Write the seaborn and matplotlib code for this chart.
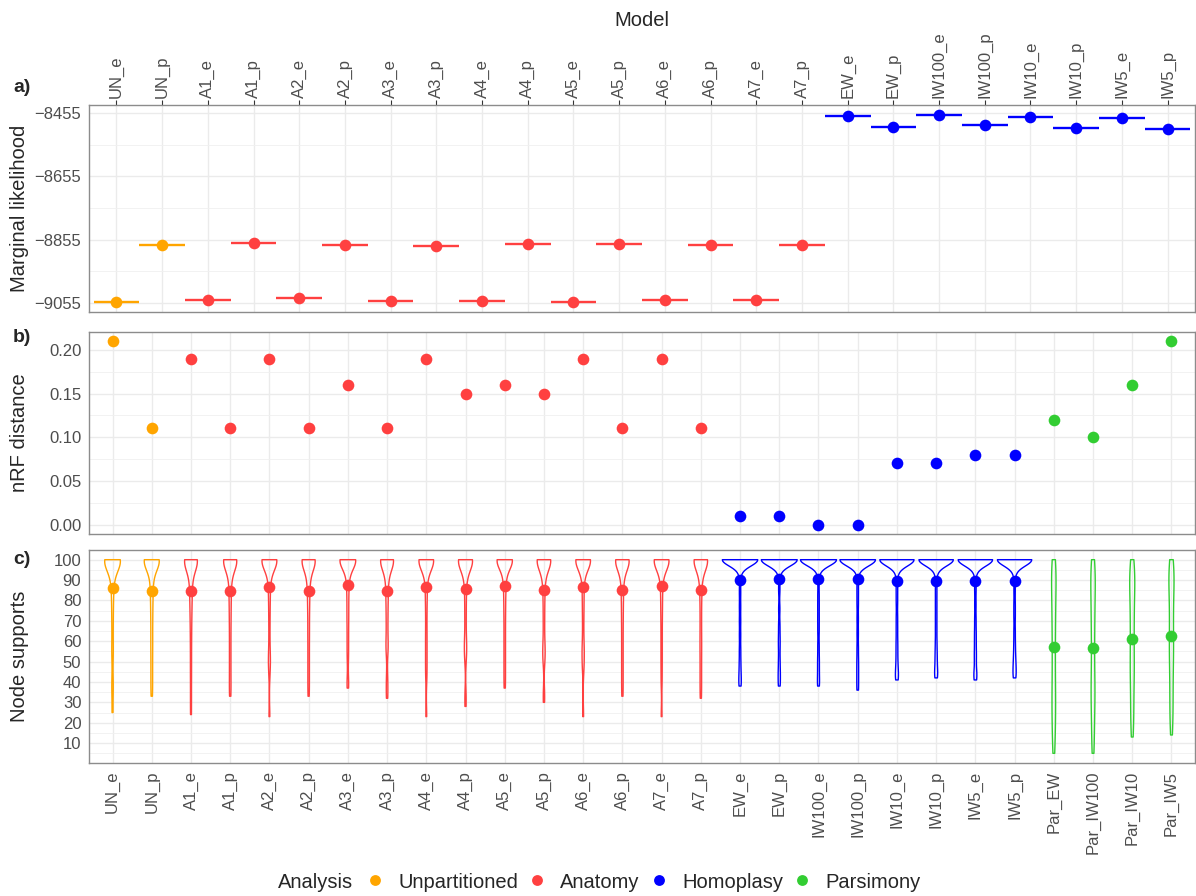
import numpy as np
import pandas as pd
import matplotlib
matplotlib.use("Agg")
import matplotlib.pyplot as plt
import seaborn as sns
from matplotlib.lines import Line2D
from matplotlib.ticker import FixedLocator

# ---------------- data ----------------
models_bayes = ["UN_e", "UN_p", "A1_e", "A1_p", "A2_e", "A2_p", "A3_e", "A3_p",
                "A4_e", "A4_p", "A5_e", "A5_p", "A6_e", "A6_p", "A7_e", "A7_p",
                "EW_e", "EW_p", "IW100_e", "IW100_p", "IW10_e", "IW10_p", "IW5_e", "IW5_p"]
models_pars = ["Par_EW", "Par_IW100", "Par_IW10", "Par_IW5"]
models_all = models_bayes + models_pars

analysis_bayes = ["Unpartitioned"] * 2 + ["Anatomy"] * 14 + ["Homoplasy"] * 8
analysis_all = analysis_bayes + ["Parsimony"] * 4
analysis_levels = ["Unpartitioned", "Anatomy", "Homoplasy", "Parsimony"]
analysis_colors = ["#FFA500", "#FF4040", "#0000FF", "#32CD32"]

marginal_likelihood = [-9054, -8872, -9046, -8867, -9041, -8871, -9049, -8876,
                       -9051, -8869, -9054, -8868, -9045, -8873, -9048, -8871,
                       -8464, -8497, -8460, -8493, -8468, -8501, -8469, -8506]

nrf_distance = [0.21, 0.11, 0.19, 0.11, 0.19, 0.11, 0.16, 0.11,
                0.19, 0.15, 0.16, 0.15, 0.19, 0.11, 0.19, 0.11,
                0.01, 0.01, 0.00, 0.00, 0.07, 0.07, 0.08, 0.08,
                0.12, 0.10, 0.16, 0.21]

ml_ticks = [-9055, -8855, -8655, -8455]
nrf_ticks = [0.00, 0.05, 0.10, 0.15, 0.20]
support_ticks = [10, 20, 30, 40, 50, 60, 70, 80, 90, 100]

# node supports per model
sup_UN_e = [100] * 14 + [99, 98, 97, 96, 94, 91, 88, 84, 79, 73, 66, 58, 52, 41, 35, 25]
sup_UN_p = [100] * 13 + [99, 98, 97, 95, 92, 89, 86, 82, 78, 73, 68, 62, 57, 51, 45, 39, 33]
sup_A1_e = [100] * 13 + [99, 98, 97, 95, 93, 90, 87, 84, 80, 76, 71, 65, 58, 50, 42, 33, 24]
sup_A1_p = [100] * 13 + [99, 98, 96, 95, 92, 90, 86, 82, 78, 73, 68, 62, 56, 50, 44, 38, 33]
sup_A2_e = [100] * 15 + [99, 98, 97, 95, 92, 89, 85, 80, 74, 67, 59, 52, 50, 44, 23]
sup_A2_p = [100] * 13 + [99, 97, 96, 94, 92, 89, 86, 83, 78, 74, 68, 63, 57, 51, 45, 39, 33]
sup_A3_e = [100] * 15 + [99, 98, 96, 94, 91, 88, 84, 79, 74, 69, 63, 57, 51, 41, 37]
sup_A3_p = [100] * 13 + [99, 98, 96, 94, 91, 88, 85, 81, 77, 72, 67, 61, 57, 55, 43, 37, 32]
sup_A4_e = [100] * 15 + [99, 98, 96, 95, 92, 88, 84, 79, 73, 66, 60, 54, 48, 42, 23]
sup_A4_p = [100] * 14 + [99, 98, 97, 95, 93, 90, 86, 81, 75, 69, 62, 55, 58, 51, 34, 28]
sup_A5_e = [100] * 15 + [99, 97, 96, 93, 90, 87, 83, 78, 73, 67, 61, 55, 49, 43, 37]
sup_A5_p = [100] * 14 + [99, 98, 96, 94, 91, 88, 84, 79, 73, 67, 60, 53, 56, 50, 35, 30]
sup_A6_e = [100] * 15 + [99, 98, 97, 94, 91, 87, 82, 77, 71, 64, 57, 50, 55, 46, 23]
sup_A6_p = [100] * 13 + [99, 98, 97, 95, 93, 90, 87, 83, 79, 74, 69, 63, 57, 51, 45, 39, 33]
sup_A7_e = [100] * 15 + [99, 98, 96, 95, 92, 89, 85, 80, 75, 69, 62, 55, 48, 40, 23]
sup_A7_p = [100] * 14 + [99, 97, 96, 94, 91, 88, 84, 79, 73, 67, 61, 56, 50, 44, 38, 32]
sup_EW_e = [100] * 29 + [96, 91, 84, 77, 70, 63, 56, 50, 45, 41, 38]
sup_EW_p = [100] * 29 + [97, 92, 85, 76, 68, 62, 57, 51, 46, 42, 38]
sup_IW100_e = [100] * 29 + [95, 90, 83, 77, 71, 65, 58, 52, 47, 42, 38]
sup_IW100_p = [100] * 29 + [96, 90, 84, 78, 71, 64, 57, 51, 46, 41, 36]
sup_IW10_e = [100] * 28 + [96, 91, 85, 79, 72, 66, 60, 55, 50, 46, 43, 41]
sup_IW10_p = [100] * 28 + [95, 90, 84, 78, 72, 66, 60, 55, 51, 47, 44, 42]
sup_IW5_e = [100] * 28 + [97, 91, 85, 78, 71, 65, 60, 55, 51, 46, 43, 41]
sup_IW5_p = [100] * 28 + [96, 92, 85, 78, 72, 65, 59, 54, 50, 47, 44, 42]
sup_Par_EW = [5, 9, 13, 16, 20, 24, 27, 30, 31, 35, 39, 42, 46, 50, 53, 57, 61, 64,
              68, 71, 74, 77, 80, 83, 86, 89, 91, 93, 95, 97, 99, 100]
sup_Par_IW100 = [5, 8, 12, 17, 21, 24, 28, 31, 34, 38, 41, 45, 49, 52, 56, 60, 63, 67,
                 70, 73, 76, 79, 82, 85, 88, 90, 92, 94, 96, 98, 100, 36]
sup_Par_IW10 = [13, 17, 21, 25, 28, 32, 36, 39, 43, 46, 50, 53, 57, 60, 63, 66, 69, 72,
                75, 78, 81, 84, 86, 88, 90, 92, 94, 96, 98, 100, 47]
sup_Par_IW5 = [14, 18, 22, 26, 29, 33, 37, 40, 44, 47, 51, 54, 58, 61, 64, 67, 70, 73,
               76, 79, 82, 85, 87, 89, 91, 93, 95, 97, 99, 100, 55]

support_lists = [sup_UN_e, sup_UN_p, sup_A1_e, sup_A1_p, sup_A2_e, sup_A2_p, sup_A3_e, sup_A3_p,
                 sup_A4_e, sup_A4_p, sup_A5_e, sup_A5_p, sup_A6_e, sup_A6_p, sup_A7_e, sup_A7_p,
                 sup_EW_e, sup_EW_p, sup_IW100_e, sup_IW100_p, sup_IW10_e, sup_IW10_p,
                 sup_IW5_e, sup_IW5_p, sup_Par_EW, sup_Par_IW100, sup_Par_IW10, sup_Par_IW5]

# ---------------- style ----------------
sns.set_style("white")
plt.rcParams["font.family"] = ["Liberation Sans", "DejaVu Sans"]
plt.rcParams["axes.unicode_minus"] = True

palette = dict(zip(analysis_levels, analysis_colors))
violin_width = {"Unpartitioned": 0.40, "Anatomy": 0.40, "Homoplasy": 0.92, "Parsimony": 0.13}
violin_bw = {"Unpartitioned": 0.22, "Anatomy": 0.22, "Homoplasy": 0.16, "Parsimony": 0.30}

TICK_COL = "#4D4D4D"
GRID_COL = "#EBEBEB"
SPINE_COL = "#8C8C8C"
TICK_SIZE = 12
TITLE_SIZE = 14.5

W, H = 1196, 896
fig = plt.figure(figsize=(W / 100, H / 100), dpi=100)


def rect(l, t, r, b):
    return [l / W, 1 - b / H, (r - l) / W, (b - t) / H]


ax_a = fig.add_axes(rect(89, 105.3, 1195, 312))
ax_b = fig.add_axes(rect(89, 332, 1195, 533.7))
ax_c = fig.add_axes(rect(89, 550, 1195, 763))

# ---------------- panel a ----------------
df_a = pd.DataFrame({"model": models_bayes, "ml": marginal_likelihood, "analysis": analysis_bayes})
pos_a = np.arange(len(models_bayes))
ax_a.hlines(df_a["ml"], pos_a - 0.5, pos_a + 0.5,
            colors=[palette[a] for a in analysis_bayes], linewidth=1.7, zorder=2)
sns.stripplot(data=df_a, x="model", y="ml", hue="analysis", order=models_bayes,
              hue_order=analysis_levels, palette=palette, jitter=False, size=8.4,
              linewidth=0, legend=False, ax=ax_a, zorder=3)

# ---------------- panel b ----------------
df_b = pd.DataFrame({"model": models_all, "nrf": nrf_distance, "analysis": analysis_all})
sns.stripplot(data=df_b, x="model", y="nrf", hue="analysis", order=models_all,
              hue_order=analysis_levels, palette=palette, jitter=False, size=8.4,
              linewidth=0, legend=False, ax=ax_b, zorder=3)

# ---------------- panel c ----------------
counts = [len(s) for s in support_lists]
df_c = pd.DataFrame({
    "model": np.repeat(models_all, counts),
    "analysis": np.repeat(analysis_all, counts),
    "support": np.concatenate(support_lists),
})
for grp in analysis_levels:
    sub = df_c[df_c["analysis"] == grp]
    sns.violinplot(data=sub, x="model", y="support", order=models_all,
                   color=palette[grp], saturation=1, fill=False, inner=None, cut=0,
                   density_norm="area", common_norm=True, width=violin_width[grp],
                   bw_method=violin_bw[grp], linewidth=1.0, ax=ax_c)
sns.pointplot(data=df_c, x="model", y="support", hue="analysis", order=models_all,
              hue_order=analysis_levels, palette=palette, estimator="mean",
              errorbar=None, linestyle="none", markers="o", markersize=8.4,
              markeredgewidth=0, dodge=False, legend=False, ax=ax_c)


# ---------------- axes styling ----------------
def style(ax, n, yticks, ylabels, ylim, minor):
    ax.set_facecolor("white")
    for s in ax.spines.values():
        s.set_visible(True)
        s.set_color(SPINE_COL)
        s.set_linewidth(1.0)
    ax.set_xlim(-0.6, n - 0.4)
    ax.set_xticks(np.arange(n))
    ax.set_yticks(yticks, labels=ylabels)
    ax.yaxis.set_minor_locator(FixedLocator(minor))
    ax.set_ylim(*ylim)
    ax.grid(True, which="major", color=GRID_COL, linewidth=1.0)
    ax.grid(True, which="minor", axis="y", color="#F0F0F0", linewidth=0.6)
    ax.set_axisbelow(True)
    ax.tick_params(which="major", length=3.5, width=0.8, color="#333333",
                   labelcolor=TICK_COL, labelsize=TICK_SIZE, pad=2)
    ax.tick_params(which="minor", length=0)
    ax.set_xlabel("")
    ax.set_ylabel("")


ml_minor = [(a + b) / 2 for a, b in zip(ml_ticks[:-1], ml_ticks[1:])]
style(ax_a, len(models_bayes), ml_ticks, [f"{v}".replace("-", "\u2212") for v in ml_ticks],
      (-9084.5, -8429.7), ml_minor)
ax_a.set_xticklabels(models_bayes)
ax_a.tick_params(axis="x", bottom=False, labelbottom=False, top=True, labeltop=True,
                 labelrotation=90)

nrf_minor = [(a + b) / 2 for a, b in zip(nrf_ticks[:-1], nrf_ticks[1:])]
style(ax_b, len(models_all), nrf_ticks, [f"{v:.2f}" for v in nrf_ticks],
      (-0.0105, 0.2205), nrf_minor)
ax_b.tick_params(axis="x", bottom=False, labelbottom=False, top=False, labeltop=False)

sup_minor = [t - 5 for t in support_ticks]
style(ax_c, len(models_all), support_ticks, [str(v) for v in support_ticks],
      (0.25, 104.75), sup_minor)
ax_c.set_xticklabels(models_all)
ax_c.tick_params(axis="x", labelrotation=90, top=False)

# ---------------- titles & labels ----------------
fig.text(642 / W, 1 - 20 / H, "Model", ha="center", va="center", fontsize=TITLE_SIZE)
for label, yc in [("Marginal likelihood", 208.7), ("nRF distance", 432.9), ("Node supports", 656.5)]:
    fig.text(20 / W, 1 - yc / H, label, rotation=90, ha="center", va="center",
             fontsize=TITLE_SIZE)
for label, yc in [("a)", 88), ("b)", 338), ("c)", 560)]:
    fig.text(22 / W, 1 - yc / H, label, ha="center", va="center", fontsize=14,
             fontweight="bold")

# ---------------- legend ----------------
fig.text(278 / W, 1 - 882 / H, "Analysis", ha="left", va="center", fontsize=TITLE_SIZE)
handles = [Line2D([], [], marker="o", linestyle="", markersize=7.8, markeredgewidth=0,
                  color=palette[g]) for g in analysis_levels]
fig.legend(handles, analysis_levels, ncol=4, loc="center left",
           bbox_to_anchor=(365 / W, 1 - 882 / H), frameon=False, fontsize=TITLE_SIZE,
           handlelength=1.0, handletextpad=0.65, columnspacing=0.45, borderpad=0,
           borderaxespad=0)

fig.savefig("out.png", dpi=100)
